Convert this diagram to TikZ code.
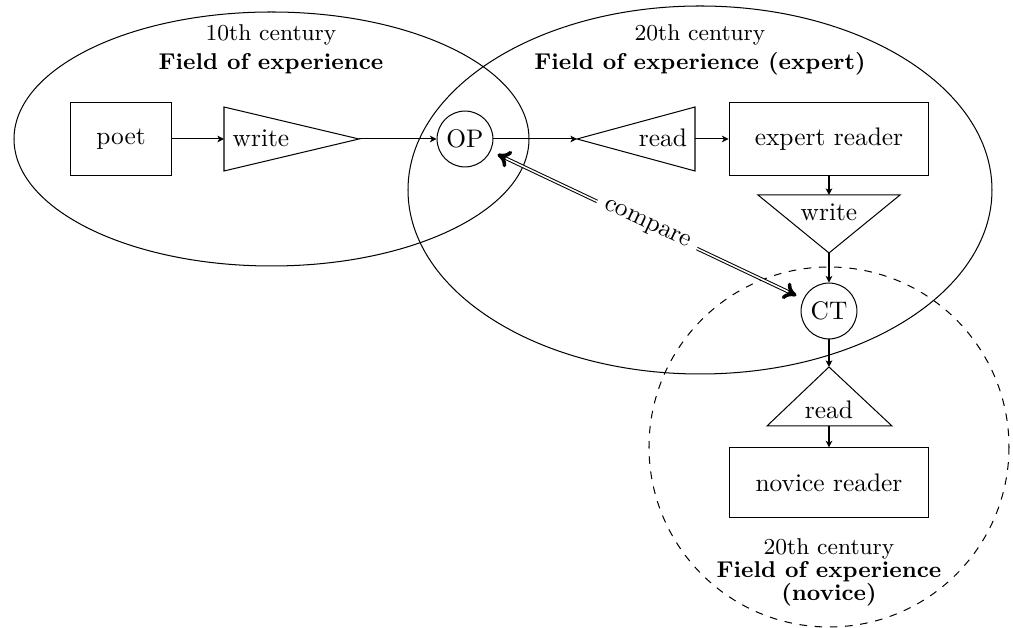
\documentclass[tikz,border=0pt]{standalone}
\usetikzlibrary{arrows.meta}
\begin{document}
\begin{tikzpicture}[x=0.3937pt,y=-0.3937pt,
  box/.style={draw, minimum height=28.5pt, inner sep=0pt},
  token/.style={draw, circle, minimum size=22pt, inner sep=0pt},
  flow/.style={-{Stealth[length=2.6pt, width=2.6pt, inset=0.7pt]}},
  cmptip/.tip={To[length=5pt, width=7pt]},
  cmpline/.style={line width=1.4pt, cmptip-cmptip, shorten <=3pt, shorten >=3pt},
  cmpgap/.style={line width=0.6pt, white, shorten <=6.5pt, shorten >=6.5pt},
  field/.style={align=center, font=\small, inner sep=0pt, anchor=north},
  label/.style={anchor=base}
]
\useasboundingbox (0,0) rectangle (1013,628);

% fields of experience
\draw (271.5,139) ellipse [x radius=257.5, y radius=127];
\draw (700,190) ellipse [x radius=292, y radius=184];
\draw[dashed] (829,447) circle [radius=180];

% boxes and texts
\node[box, minimum width=39.4pt] (poet) at (121,139) {poet};
\node[token] (OP) at (465,139) {OP};
\node[box, minimum width=78.7pt] (expert) at (829,139) {expert reader};
\node[token] (CT) at (829,311) {CT};
\node[box, minimum width=78pt, minimum height=27.2pt] (novice) at (829,482.5) {novice reader};

% write (poet)
\draw (224,107) -- (359,139) -- (224,171) -- cycle;
\coordinate (w1in) at (224,139);
\coordinate (w1out) at (359,139);
\node[label] (w1) at (261,147) {write};

% read (expert)
\draw (577,139) -- (695,107) -- (695,171) -- cycle;
\coordinate (r1in) at (577,139);
\coordinate (r1out) at (695,139);
\node[label] (r1) at (663,147) {read};

% write (expert)
\draw (758,195) -- (900,195) -- (829,253) -- cycle;
\coordinate (w2in) at (829,195);
\coordinate (w2out) at (829,253);
\node[label] (w2) at (829,221) {write};

% read (novice)
\draw (829,367) -- (892,426) -- (767,426) -- cycle;
\coordinate (r2in) at (829,367);
\coordinate (r2out) at (829,426);
\node[label] (r2) at (829,418.5) {read};

% flow of the text
\draw[flow] (poet) -- (w1in);
\draw[flow] (w1out) -- (OP);
\draw[flow] (OP) -- (r1in);
\draw[flow] (r1out) -- (expert);
\draw[flow] (expert) -- (w2in);
\draw[flow] (w2out) -- (CT);
\draw[flow] (CT) -- (r2in);
\draw[flow] (r2out) -- (novice);

% comparison of original and translation: a double line with solid tips
\draw[cmpline] (OP) -- (CT);
\draw[cmpgap] (OP) -- node[sloped, fill=white, text=black] (cmp) {compare} (CT);

% field titles
\node[field] (f10) at (271,24) {10th century\\[0.5pt]\textbf{Field of experience}};
\node[field] (f20) at (700,24) {20th century\\[0.5pt]\textbf{Field of experience (expert)}};
\node[field] (f20n) at (829,538.5) {20th century\\[-2pt]\textbf{Field of experience}\\[-2pt]\textbf{(novice)}};
\end{tikzpicture}
\end{document}
